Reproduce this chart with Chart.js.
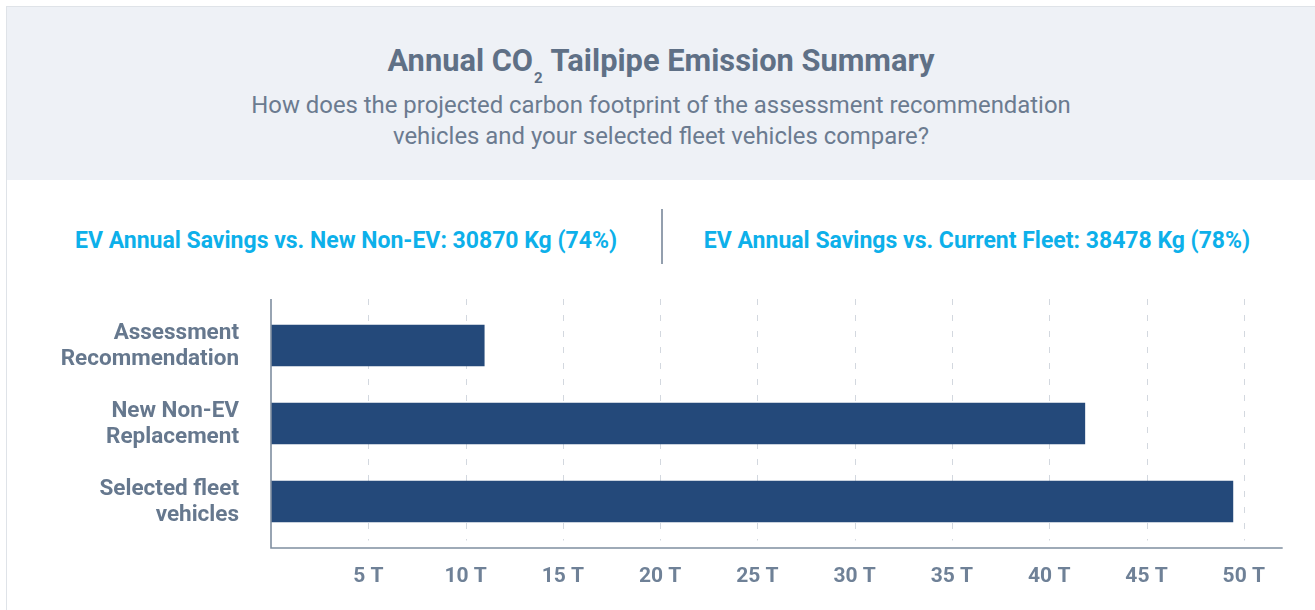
<!DOCTYPE html>
<html>
<head>
<meta charset="utf-8">
<script src="https://cdn.jsdelivr.net/npm/chart.js@4/dist/chart.umd.min.js"></script>
<style>
  html, body { margin: 0; padding: 0; width: 1315px; height: 610px; overflow: hidden; background: #fff; font-family: Roboto, "Open Sans", sans-serif; }
  .card { position: absolute; left: 6px; top: 6px; width: 1320px; height: 620px; border-left: 1px solid #dfe3e8; border-top: 1px solid #dfe3e8; }
  .header { position: absolute; left: 7px; top: 7px; width: 1320px; height: 173px; background: #eef1f6; }
  .title { position: absolute; left: 7px; width: 1308px; top: 44px; text-align: center; font-weight: 700; font-size: 30.8px; color: #5f7086; line-height: 34px; white-space: nowrap; }
  .title sub { font-size: 15px; vertical-align: -12px; line-height: 0; margin: 0 1px; }
  .subtitle { position: absolute; left: 7px; width: 1308px; top: 90px; text-align: center; font-size: 23.9px; color: #6b7b90; line-height: 31px; white-space: nowrap; }
  .saving { position: absolute; top: 226.5px; font-weight: 700; font-size: 23px; color: #0db0ea; white-space: nowrap; text-align: center; width: 700px; line-height: 28px; }
  .divider { position: absolute; left: 661px; top: 209px; width: 2px; height: 55px; background: #939fae; }
  #wrap { position: absolute; left: 0; top: 280px; width: 1315px; height: 330px; }
</style>
</head>
<body>
<div class="card"></div>
<div class="header"></div>
<div class="title">Annual CO<sub>2</sub> Tailpipe Emission Summary</div>
<div class="subtitle">How does the projected carbon footprint of the assessment recommendation<br>vehicles and your selected fleet vehicles compare?</div>
<div class="saving" id="s1" style="left:-4px"></div>
<div class="divider"></div>
<div class="saving" id="s2" style="left:627px"></div>
<div id="wrap"><canvas id="c" width="1315" height="330"></canvas></div>
<script>
// ---- data ----
const categories = [
  ["Assessment", "Recommendation"],
  ["New Non-EV", "Replacement"],
  ["Selected fleet", "vehicles"]
];
const emissionTonnes = [10.96, 41.83, 49.44];
const tickValues = [5, 10, 15, 20, 25, 30, 35, 40, 45, 50];
const tickUnit = " T";
const savingsLabels = ["EV Annual Savings vs. New Non-EV", "EV Annual Savings vs. Current Fleet"];
const savingsKg = [30870, 38478];
const savingsPct = [74, 78];

document.getElementById('s1').textContent = savingsLabels[0] + ': ' + savingsKg[0] + ' Kg (' + savingsPct[0] + '%)';
document.getElementById('s2').textContent = savingsLabels[1] + ': ' + savingsKg[1] + ' Kg (' + savingsPct[1] + '%)';

const EXT = 7.5;
const axesPlugin = {
  id: 'axesPlugin',
  beforeDatasetsDraw(chart) {
    const { ctx, chartArea } = chart;
    const x = chart.scales.x;
    ctx.save();
    ctx.strokeStyle = '#d3d8df';
    ctx.lineWidth = 1;
    ctx.setLineDash([6, 10]);
    tickValues.forEach(v => {
      const px = Math.round(x.getPixelForValue(v)) + 0.5;
      ctx.beginPath();
      ctx.moveTo(px, chartArea.top - EXT);
      ctx.lineTo(px, chartArea.bottom);
      ctx.stroke();
    });
    ctx.restore();
  },
  afterDatasetsDraw(chart) {
    const { ctx, chartArea } = chart;
    ctx.save();
    ctx.strokeStyle = '#7f8ea0';
    ctx.lineWidth = 1.6;
    ctx.beginPath();
    ctx.moveTo(chartArea.left, chartArea.top - EXT);
    ctx.lineTo(chartArea.left, chartArea.bottom + EXT);
    ctx.lineTo(chartArea.right, chartArea.bottom + EXT);
    ctx.stroke();
    ctx.restore();
  }
};

new Chart(document.getElementById('c'), {
  type: 'bar',
  data: {
    labels: categories,
    datasets: [{
      data: emissionTonnes,
      backgroundColor: '#24497a',
      borderWidth: 0,
      barThickness: 41
    }]
  },
  options: {
    indexAxis: 'y',
    responsive: false,
    animation: false,
    events: [],
    layout: { padding: { top: 26.5, right: 32.3, left: 0, bottom: 0 } },
    plugins: { legend: { display: false }, tooltip: { enabled: false } },
    scales: {
      x: {
        type: 'linear',
        min: 0,
        max: 52,
        afterFit(scale) { scale.height = 69.5; scale.paddingLeft = 0; scale.paddingRight = 0; },
        afterBuildTicks(scale) { scale.ticks = [0].concat(tickValues).map(v => ({ value: v })); },
        grid: { display: false, drawTicks: false },
        border: { display: false },
        ticks: {
          callback: v => (tickValues.includes(v) ? v + tickUnit : ''),
          font: { family: 'Roboto', size: 21, weight: 'bold' },
          color: '#6f8197',
          padding: 23.5,
          maxRotation: 0,
          autoSkip: false
        }
      },
      y: {
        afterFit(scale) { scale.width = 271; scale.paddingTop = 0; scale.paddingBottom = 0; },
        grid: { display: false, drawTicks: false },
        border: { display: false },
        ticks: {
          font: { family: 'Roboto', size: 22.5, weight: 'bold', lineHeight: 1.156 },
          color: '#66788e',
          padding: 32,
          labelOffset: 0.5,
          autoSkip: false
        }
      }
    }
  },
  plugins: [axesPlugin]
});
</script>
</body>
</html>
